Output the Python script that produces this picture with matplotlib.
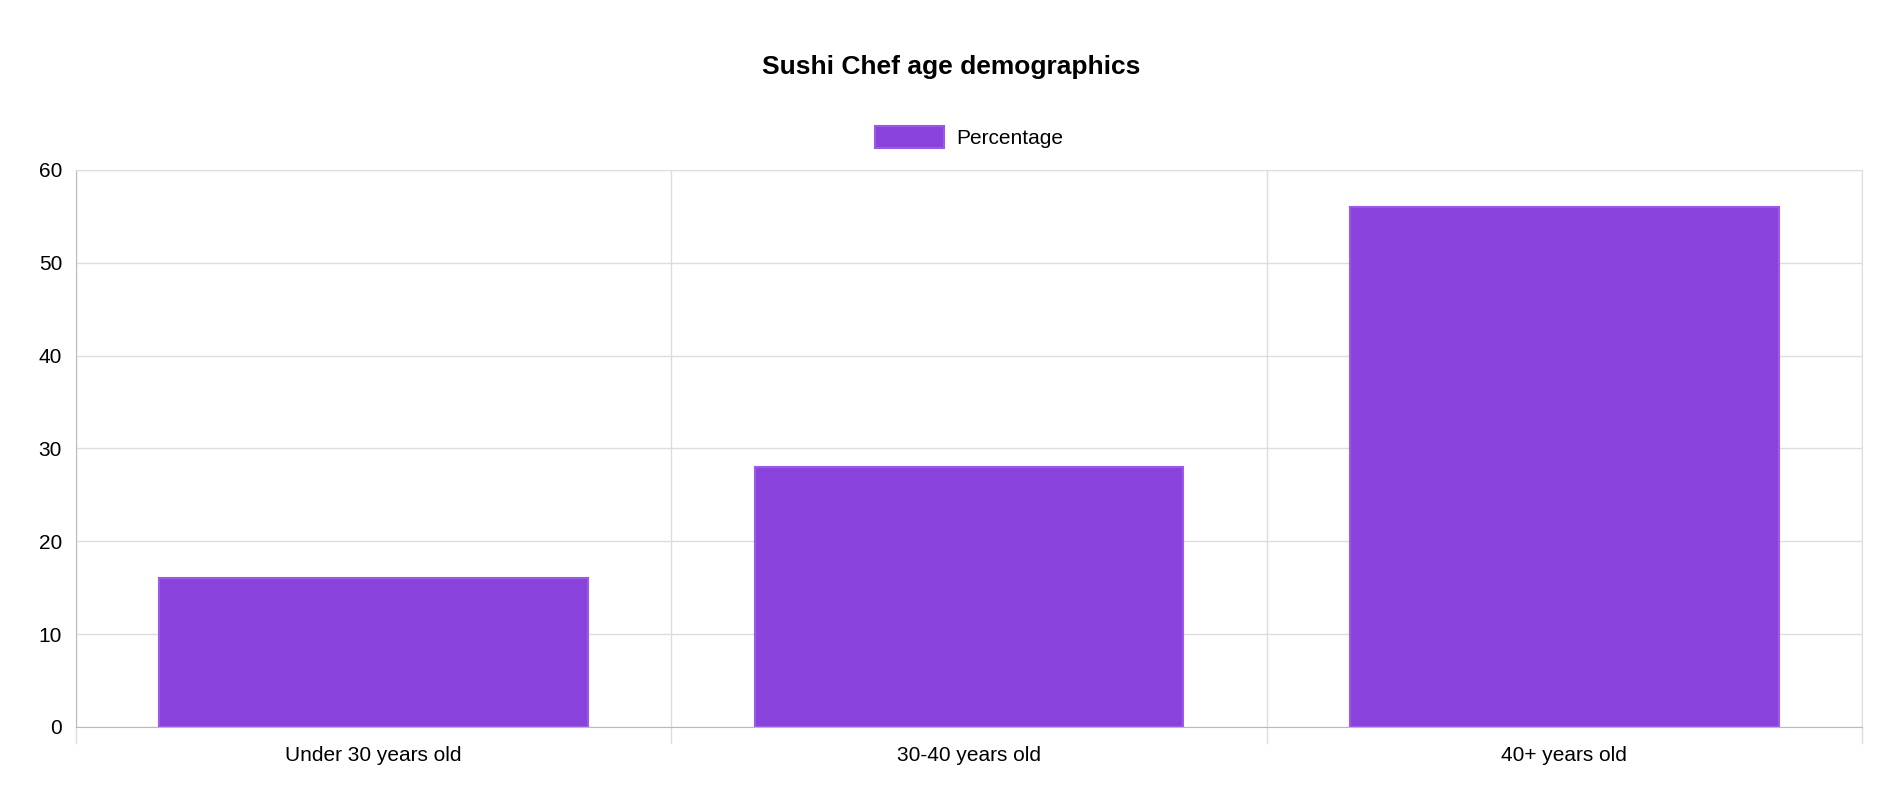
import matplotlib.pyplot as plt
import numpy as np

categories = ["Under 30 years old", "30-40 years old", "40+ years old"]
percentages = [16, 28, 56]
y_ticks = [0, 10, 20, 30, 40, 50, 60]

plt.rcParams["font.family"] = ["Liberation Sans", "DejaVu Sans"]

W, H = 1902, 800
fig = plt.figure(figsize=(W / 100, H / 100), dpi=100)
ax = fig.add_axes([76 / W, 1 - 727 / H, (1862 - 76) / W, (727 - 170) / H])

x = np.arange(len(categories))
ax.bar(x, percentages, width=0.72, color="#8a42dd", edgecolor="#9a5ae6",
       linewidth=1.5, label="Percentage", zorder=2)

ax.set_xlim(-0.5, len(categories) - 0.5)
ax.set_ylim(0, 60)
ax.set_yticks(y_ticks)
ax.set_xticks(x)
ax.set_xticklabels(categories, fontsize=15)
ax.tick_params(axis="y", labelsize=15, length=0, pad=10)
ax.tick_params(axis="x", length=0, pad=14)

# vertical grid lines at category boundaries, extending below the axis
for b in np.arange(-0.5, len(categories), 1.0):
    ax.axvline(b, color="#dddddd", linewidth=1, zorder=0)
    ax.plot([b, b], [0, -1.7], color="#dddddd", linewidth=1, clip_on=False)
ax.grid(axis="y", color="#dddddd", linewidth=1, zorder=0)
for s in ax.spines.values():
    s.set_color("#dddddd")
ax.spines["left"].set_color("#bbbbbb")
ax.spines["bottom"].set_color("#bbbbbb")

fig.text(0.5, 1 - 67 / H, "Sushi Chef age demographics", ha="center", va="center",
         fontsize=19, fontweight="bold")
ax.legend(loc="center", bbox_to_anchor=(0.5, 1 + (170 - 137) / (727 - 170)),
          frameon=False, fontsize=15, handlelength=3.3, handleheight=1.3,
          handletextpad=0.6)

fig.savefig("out.png", dpi=100)
